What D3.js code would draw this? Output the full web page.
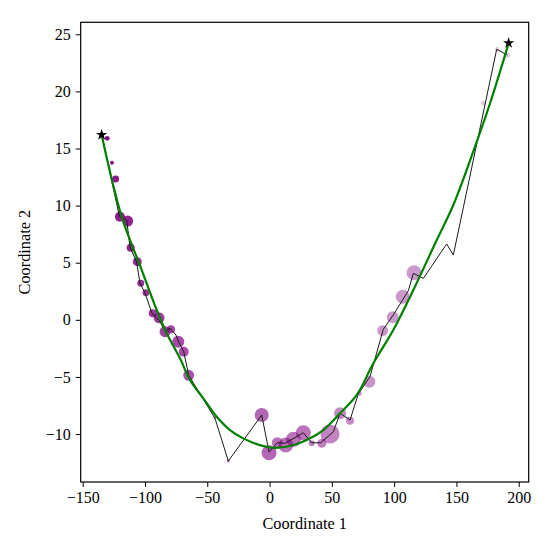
<!DOCTYPE html>
<html><head><meta charset="utf-8">
<script src="https://cdn.jsdelivr.net/npm/d3@7"></script>
<style>html,body{margin:0;padding:0;background:#fff}</style>
</head><body>
<svg id="chart" width="552" height="552"></svg>
<script>
// Cluster points (centres), weight -> radius, time -> opacity
const pointX = [-130.3,-126.5,-123.5,-120.1,-113.9,-111.5,-106.2,-103.4,-99.2,-93.8,-88.7,-83.9,-79.1,-73.3,-68.9,-64.9,-43.8,-33.1,-6.3,-0.4,6.2,13.0,19.1,27.1,33.8,41.9,48.5,56.6,64.6,72.0,80.1,90.8,98.9,106.9,116.0,171.6,182.8,190.9];
const pointY = [15.89,13.76,12.33,9.03,8.65,6.31,5.09,3.20,2.37,0.57,0.18,-1.04,-0.83,-1.92,-2.79,-4.86,-8.57,-12.36,-8.34,-11.64,-10.76,-10.96,-10.46,-9.89,-10.81,-10.81,-10.0,-8.19,-8.84,-6.44,-5.42,-0.95,0.22,2.02,4.12,18.96,23.69,23.19];
const pointWeight = [6,4,12,25,30,16,20,12,12,16,30,30,16,36,25,30,2,2,49,56,30,56,56,56,9,20,90,36,16,6,36,30,36,49,56,6,6,9];
const pointTime = [0.95,0.92,0.9,0.88,0.86,0.85,0.83,0.82,0.8,0.78,0.76,0.74,0.72,0.7,0.69,0.67,0.6,0.62,0.6,0.6,0.56,0.55,0.55,0.54,0.5,0.5,0.48,0.46,0.45,0.44,0.42,0.4,0.4,0.4,0.4,0.2,0.18,0.18];

// Raw trajectory
const pathX = [-134.8,-120.5,-114.7,-112.0,-106.7,-104.0,-100.0,-94.6,-88.0,-83.9,-79.9,-75.1,-73.3,-68.9,-64.9,-43.8,-33.1,-6.3,-0.4,6.2,12.4,27.1,33.8,41.1,51.2,56.6,64.6,71.2,80.6,91.3,99.3,111.4,115.4,123.4,142.2,147.5,182.3,190.9];
const pathY = [16.2,9.05,8.74,6.37,5.06,3.20,2.37,0.62,-0.17,-0.98,-0.74,-1.33,-1.86,-2.79,-4.86,-8.63,-12.36,-8.34,-11.58,-10.76,-10.81,-9.89,-10.76,-10.76,-9.80,-8.19,-8.77,-6.50,-4.98,-0.83,0.42,2.55,4.07,3.63,6.64,5.67,23.69,23.19];

// Fitted curve
const fitX = [-134.8,-118.7,-102.6,-90.6,-82.6,-71.9,-63.9,-53.2,-42.4,-31.8,-21.1,-10.3,3.0,16.4,29.8,43.1,56.5,70.0,83.3,99.3,115.4,134.2,147.5,164.9,177.0,191.9];
const fitY = [16.2,9.03,4.36,0.86,-1.18,-3.37,-5.27,-6.87,-8.49,-9.65,-10.38,-10.88,-11.20,-11.05,-10.53,-9.65,-8.19,-6.58,-3.81,-0.89,2.61,6.99,10.05,15.16,18.96,24.2];

// Endpoint stars
const starX = [-134.8, 191.9];
const starY = [16.2, 24.24];

const xTicks = [-150,-100,-50,0,50,100,150,200];
const yTicks = [-10,-5,0,5,10,15,20,25];
const xLabel = "Coordinate 1";
const yLabel = "Coordinate 2";

const W = 552, H = 552;
const m = {left: 80.7, right: 552-528.7, top: 22.3, bottom: 552-482};
const svg = d3.select("#chart");
const x = d3.scaleLinear().domain([-151.6, 208.0]).range([m.left, W - m.right]);
const y = d3.scaleLinear().domain([-14.2, 26.05]).range([H - m.bottom, m.top]);
const r = d3.scaleSqrt().domain([0, 90]).range([0, 9.5]);
const op = d3.scaleLinear().domain([0, 1]).range([0, 1]);
const font = "'Liberation Serif', 'DejaVu Serif', serif";

const pts = pointX.map((v,i)=>({x:v, y:pointY[i], w:pointWeight[i], t:pointTime[i]}));
svg.append("g").selectAll("circle").data(pts).join("circle")
  .attr("cx", d=>x(d.x)).attr("cy", d=>y(d.y)).attr("r", d=>r(d.w))
  .attr("fill", "#800080").attr("fill-opacity", d=>op(d.t)).attr("stroke","none");

const path = pathX.map((v,i)=>[v, pathY[i]]);
svg.append("path").datum(path)
  .attr("d", d3.line().x(d=>x(d[0])).y(d=>y(d[1])))
  .attr("fill","none").attr("stroke","#1a1a1a").attr("stroke-width",1).attr("stroke-linejoin","miter");

const fit = fitX.map((v,i)=>[v, fitY[i]]);
svg.append("path").datum(fit)
  .attr("d", d3.line().x(d=>x(d[0])).y(d=>y(d[1])).curve(d3.curveCatmullRom.alpha(0.5)))
  .attr("fill","none").attr("stroke","#008000").attr("stroke-width",2.2);

svg.append("g").selectAll("path").data(starX.map((v,i)=>[v, starY[i]])).join("path")
  .attr("transform", d=>`translate(${x(d[0])},${y(d[1])})`)
  .attr("d", d3.symbol(d3.symbolStar, 40)).attr("fill","#000");

// Frame
svg.append("rect").attr("x", m.left).attr("y", m.top)
  .attr("width", W - m.right - m.left).attr("height", H - m.bottom - m.top)
  .attr("fill","none").attr("stroke","#000").attr("stroke-width",1.2);

const gx = svg.append("g").attr("transform", `translate(0,${H - m.bottom})`)
  .call(d3.axisBottom(x).tickValues(xTicks).tickSize(5).tickPadding(5));
const gy = svg.append("g").attr("transform", `translate(${m.left},0)`)
  .call(d3.axisLeft(y).tickValues(yTicks).tickSize(5).tickPadding(5));
[gx, gy].forEach(g => {
  g.select(".domain").remove();
  g.selectAll("line").attr("stroke","#000").attr("stroke-width",1);
  g.selectAll("text").attr("font-family", font).attr("font-size", 16).attr("fill","#000");
});

svg.append("text").attr("x", (m.left + W - m.right)/2).attr("y", 529)
  .attr("text-anchor","middle").attr("font-family", font).attr("font-size", 16.3).text(xLabel);
svg.append("text").attr("transform", `translate(30,${(m.top + H - m.bottom)/2}) rotate(-90)`)
  .attr("text-anchor","middle").attr("font-family", font).attr("font-size", 16.3).text(yLabel);
</script>
</body></html>
